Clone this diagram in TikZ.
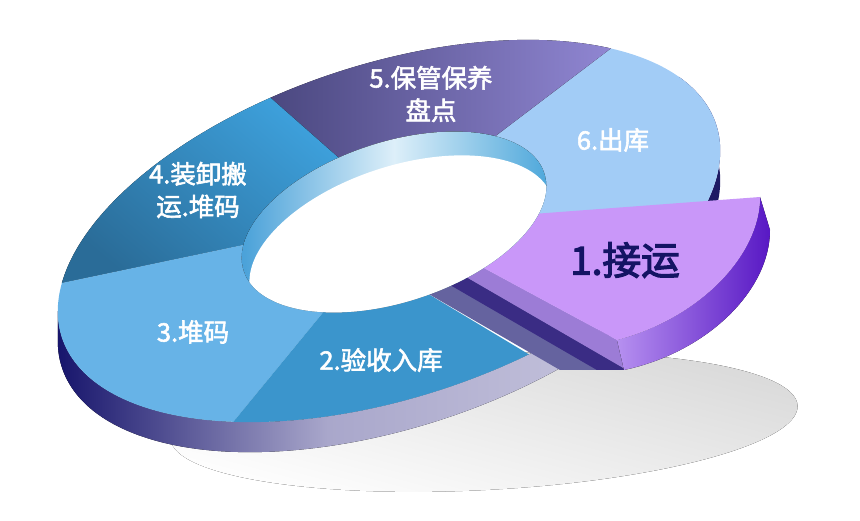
\documentclass[tikz,border=0pt]{standalone}
\usepackage{fontspec}
\newfontfamily\cjk{Noto Sans CJK SC}[FakeBold=2.2]
\newfontfamily\cjkhub{Noto Sans CJK SC}[FakeBold=3.2]
\usetikzlibrary{calc}

\definecolor{segA}{HTML}{C997F9}
\definecolor{segB}{HTML}{3B95CC}
\definecolor{segC}{HTML}{67B3E7}
\definecolor{segDtop}{HTML}{3D9FDA}
\definecolor{segDbot}{HTML}{2A6C98}
\definecolor{segEleft}{HTML}{4B4880}
\definecolor{segEright}{HTML}{9086D2}
\definecolor{segF}{HTML}{A2CCF6}
\definecolor{rimL}{HTML}{17156C}
\definecolor{rimM}{HTML}{A9A7CB}
\definecolor{rimR}{HTML}{C3C1DB}
\definecolor{rimD}{HTML}{1E1A64}
\definecolor{wallL}{HTML}{3E9BD6}
\definecolor{wallM}{HTML}{DDEFF9}
\definecolor{wallR}{HTML}{45A3D9}
\definecolor{cutGrey}{HTML}{65639F}
\definecolor{cutNavy}{HTML}{3A2C84}
\definecolor{cutViolet}{HTML}{9C7CD6}
\definecolor{liftL}{HTML}{B690F0}
\definecolor{liftR}{HTML}{5818C4}
\definecolor{ink}{HTML}{141464}

\begin{document}
\begin{tikzpicture}[x=0.02cm, y=0.02cm,
	seglabel/.style={text=white, font=\cjk\fontsize{14.5}{18.5}\selectfont, align=center},
	hublabel/.style={text=ink, font=\cjkhub\fontsize{22}{26}\selectfont}]
	%%%%% START %%%%%
	\useasboundingbox (0,0) rectangle (860,521);
	
	\fill[top color=black!15, bottom color=white, shading angle=-15, rotate around={3:(484,99)}] (484,99) ellipse [x radius=314, y radius=68];
	
	%%%%% points on the ring %%%%%
	\begin{scope}[shift={(389,290)}, rotate=18]
		\foreach \t in {-32,20,39,102,162,171,233,286,300}
			\coordinate (o\t) at (\t:344 and 167);
	\end{scope}
	\begin{scope}[shift={(394,299)}, rotate=18]
		\foreach \t in {-32,39,102,162,233,274}
			\coordinate (i\t) at (\t:158 and 80);
	\end{scope}
	\foreach \t in {20,171,300}
		\coordinate (s\t) at ($(o\t)+(0,-30)$);
	
	%%%%% rim and top face %%%%%
	\begin{scope}[rotate=18]
		\fill[left color=rimL, right color=rimR, middle color=rimM] (o171) arc[start angle=171, end angle=300, x radius=344, y radius=167] -- (s300) arc[start angle=300, end angle=171, x radius=344, y radius=167] -- cycle;
		\fill[rimD] (o300) arc[start angle=300, end angle=380, x radius=344, y radius=167] -- (s20) arc[start angle=380, end angle=300, x radius=344, y radius=167] -- cycle;
		
		\fill[segF] (o-32) arc[start angle=-32, end angle=39, x radius=344, y radius=167] -- (i39) arc[start angle=39, end angle=-32, x radius=158, y radius=80] -- cycle;
		\fill[left color=segEleft, right color=segEright] (o39) arc[start angle=39, end angle=102, x radius=344, y radius=167] -- (i102) arc[start angle=102, end angle=39, x radius=158, y radius=80] -- cycle;
		\fill[top color=segDtop, bottom color=segDbot, shading angle=-40] (o102) arc[start angle=102, end angle=162, x radius=344, y radius=167] -- (i162) arc[start angle=162, end angle=102, x radius=158, y radius=80] -- cycle;
		\fill[segC] (o162) arc[start angle=162, end angle=233, x radius=344, y radius=167] -- (i233) arc[start angle=233, end angle=162, x radius=158, y radius=80] -- cycle;
		\fill[segB] (o233) arc[start angle=233, end angle=286, x radius=344, y radius=167] -- (i274) arc[start angle=274, end angle=233, x radius=158, y radius=80] -- cycle;
	\end{scope}
	
	%%%%% cut faces under the lifted part %%%%%
	\begin{scope}
		\clip (427,228) -- (560,151) -- (624,151) -- (617,181) -- (480,255) -- cycle;
		\fill[cutGrey] (380,300) rectangle (720,120);
		\fill[cutNavy] (409.3,259.6) -- (662,113.3) -- (680,120.2) -- (427.3,266.5) -- cycle;
		\fill[cutViolet] (427.3,266.5) -- (680,120.2) -- (723.8,137) -- (471.1,283.3) -- cycle;
	\end{scope}
	
	%%%%% lifted part %%%%%
	\fill[left color=liftL, right color=liftR] (760,324) -- (770,291) .. controls (770,231) and (708,169) .. (624,151) -- (617,181) .. controls (700,203) and (760,266) .. (760,324) -- cycle;
	\fill[segA] (480,255) -- (533,307) -- (760,324) .. controls (760,266) and (700,203) .. (617,181) -- cycle;
	
	%%%%% hole %%%%%
	\begin{scope}[shift={(394,299)}, rotate=18]
		\fill[left color=wallL, right color=wallR, middle color=wallM] (0,0) ellipse [x radius=158, y radius=80];
		\clip (0,0) ellipse [x radius=158, y radius=80];
		\fill[white] (0,-25) ellipse [x radius=158, y radius=80];
	\end{scope}
	
	\node[seglabel] (lab5) at (431,427) {5.保管保养\\盘点};
	\node[seglabel] (lab6) at (613,381) {6.出库};
	\node[seglabel] (lab4) at (198,331) {4.装卸搬\\运.堆码};
	\node[seglabel] (lab3) at (193,189) {3.堆码};
	\node[seglabel] (lab2) at (381,161) {2.验收入库};
	\node[hublabel] (lab1) at (625,261) {1.接运};
	
	%%%%% END %%%%%
\end{tikzpicture}
\end{document}
